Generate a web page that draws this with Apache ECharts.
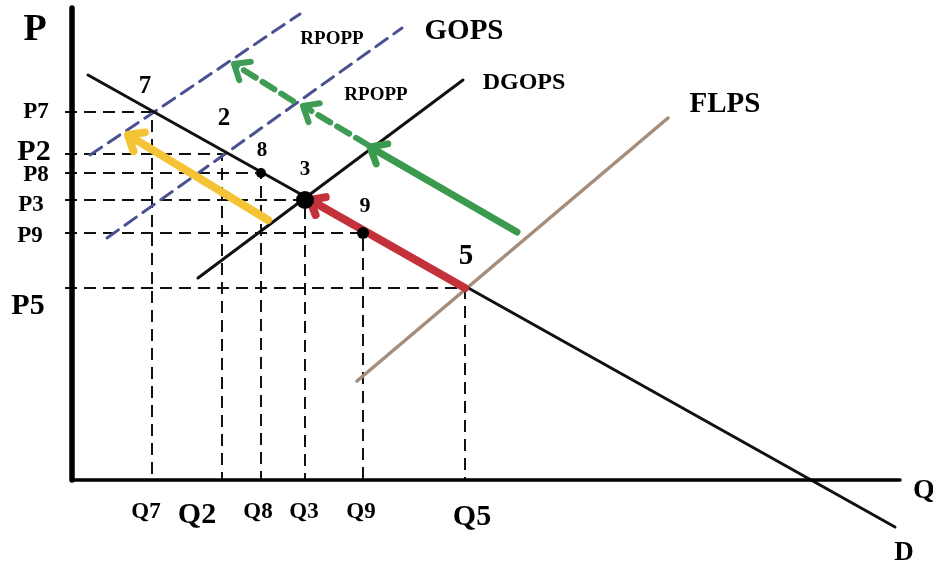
<!DOCTYPE html>
<html>
<head>
<meta charset="utf-8">
<script src="https://cdn.jsdelivr.net/npm/echarts@6/dist/echarts.min.js"></script>
<style>
  html, body { margin: 0; padding: 0; background: #fff; }
  #chart { width: 933px; height: 565px; }
</style>
</head>
<body>
<div id="chart"></div>
<script>
const qNames = ['Q7', 'Q2', 'Q8', 'Q3', 'Q9', 'Q5'];
const qValues = [80, 150, 189, 233, 291, 393];
const pNames = ['P7', 'P2', 'P8', 'P3', 'P9', 'P5'];
const pValues = [368, 326, 307, 280, 247, 192];
const pointNames = ['7', '2', '8', '3', '9', '5'];

// curves as [Q, P] end points
const demandD = [[16, 405], [823, -47]];
const dgops = [[126, 202], [391, 400]];
const gopsUpper = [[18, 325], [228, 466]];
const gopsLower = [[35, 242], [330, 452]];
const flps = [[285, 99], [596, 362]];
const axisP = [[0, 472], [0, 0]];
const axisQ = [[0, 0], [828, 0]];

// arrows, from -> to
const arrowYellow = [[196, 260], [56, 345]];
const arrowRed = [[393, 192], [238, 280]];
const arrowGreen = [[445, 248], [298, 333]];
const arrowGreenDash1 = [[296, 335], [231, 374]];
const arrowGreenDash2 = [[221, 379], [162, 416]];

// curve names and where they sit
const curveNames = ['GOPS', 'DGOPS', 'RPOPP', 'RPOPP', 'FLPS', 'D', 'Q', 'P'];
const curveNameAt = [[392, 448], [452, 397], [260, 441], [304, 385], [653, 375], [832, -73], [852, -11], [-37, 450]];

// label styling (size, pixel offset)
const curveNameSize = [29, 24, 19, 19, 29, 27, 28, 38];
const pLabelStyle = [[23, -36, 0], [30, -38, -2], [23, -36, 2], [23, -41, 5], [23, -42, 3], [30, -44, 18]];
const qLabelStyle = [[23, -6, 32], [30, -25, 35], [23, -3, 32], [23, -1, 32], [23, -2, 32], [30, 7, 37]];
const pointLabelStyle = [[25, -7, -25], [25, 2, -35], [21, 1, -22], [21, 0, -30], [22, 2, -27], [29, 1, -31]];

const serif = '"Liberation Serif", "DejaVu Serif", serif';

function seg(points, color, width, dash, z) {
  return {
    type: 'line', data: points, symbol: 'none', silent: true,
    lineStyle: { color: color, width: width, type: dash || 'solid', cap: 'round', join: 'round' },
    z: z || 2
  };
}

// shaft plus an open chevron head, arms worked out from the arrow direction
// (one axis unit is one pixel on both axes, so angles come out right)
function arrow(points, color, width, armLen, dash) {
  var a = points[0], b = points[1];
  var dx = b[0] - a[0], dy = b[1] - a[1];
  var len = Math.sqrt(dx * dx + dy * dy);
  var ux = dx / len, uy = dy / len;
  var ang = 40 * Math.PI / 180;
  function arm(s) {
    var c = Math.cos(s * ang), sn = Math.sin(s * ang);
    var rx = ux * c - uy * sn, ry = ux * sn + uy * c;
    return [b[0] - rx * armLen, b[1] - ry * armLen];
  }
  return [
    seg([a, [b[0] - ux * width * 0.4, b[1] - uy * width * 0.4]], color, width, dash, 4),
    seg([arm(1), b, arm(-1)], color, width, null, 4)
  ];
}

var series = [];

// dashed guides from each point to both axes
for (var i = 0; i < qValues.length; i++) {
  series.push(seg([[-7, pValues[i]], [qValues[i], pValues[i]], [qValues[i], 0]], '#111', 2, [12, 7]));
  series[series.length - 1].lineStyle.cap = 'butt';
}

series.push(seg(gopsUpper, '#4a5190', 3, [14, 8]));
series.push(seg(gopsLower, '#4a5190', 3, [14, 8]));
series.push(seg(flps, '#a58d7b', 3.5));
series.push(seg(demandD, '#111', 3));
series.push(seg(dgops, '#111', 3));
series.push(seg(axisP, '#000', 5.5));
series.push(seg(axisQ, '#000', 3.5));

series = series.concat(arrow(arrowYellow, '#f5c336', 8, 17));
series = series.concat(arrow(arrowRed, '#c3323b', 8, 16));
series = series.concat(arrow(arrowGreen, '#3a9b4f', 7, 18));
series = series.concat(arrow(arrowGreenDash1, '#3f9c55', 6, 17, [14, 8]));
series = series.concat(arrow(arrowGreenDash2, '#3f9c55', 6, 17, [14, 8]));

// dots at 3, 8, 9
series.push({
  type: 'scatter', silent: true, z: 5, symbol: 'circle',
  itemStyle: { color: '#000', opacity: 1 },
  data: [
    { value: [qValues[3], pValues[3]], symbolSize: 18 },
    { value: [qValues[2], pValues[2]], symbolSize: 10 },
    { value: [qValues[4], pValues[4]], symbolSize: 12 }
  ]
});

var texts = [];
for (var j = 0; j < curveNames.length; j++) {
  texts.push({ value: curveNameAt[j], label: { formatter: curveNames[j], fontSize: curveNameSize[j] } });
}
for (var k = 0; k < pNames.length; k++) {
  texts.push({ value: [0, pValues[k]], label: { formatter: pNames[k], fontSize: pLabelStyle[k][0], offset: [pLabelStyle[k][1], pLabelStyle[k][2]] } });
  texts.push({ value: [qValues[k], 0], label: { formatter: qNames[k], fontSize: qLabelStyle[k][0], offset: [qLabelStyle[k][1], qLabelStyle[k][2]] } });
  texts.push({ value: [qValues[k], pValues[k]], label: { formatter: pointNames[k], fontSize: pointLabelStyle[k][0], offset: [pointLabelStyle[k][1], pointLabelStyle[k][2]] } });
}

series.push({
  type: 'scatter', silent: true, z: 6, symbol: 'circle', symbolSize: 1,
  itemStyle: { color: 'rgba(0,0,0,0)', opacity: 1 },
  label: {
    show: true, position: 'inside', color: '#000', fontFamily: serif, fontWeight: 'bold',
    textBorderWidth: 0, align: 'center', verticalAlign: 'middle'
  },
  data: texts
});

var chart = echarts.init(document.getElementById('chart'));
chart.setOption({
  animation: false,
  backgroundColor: '#ffffff',
  grid: { left: 0, right: 0, top: 0, bottom: 0 },
  xAxis: { type: 'value', min: -72, max: 861, show: false },
  yAxis: { type: 'value', min: -85, max: 480, show: false },
  series: series
});
</script>
</body>
</html>
